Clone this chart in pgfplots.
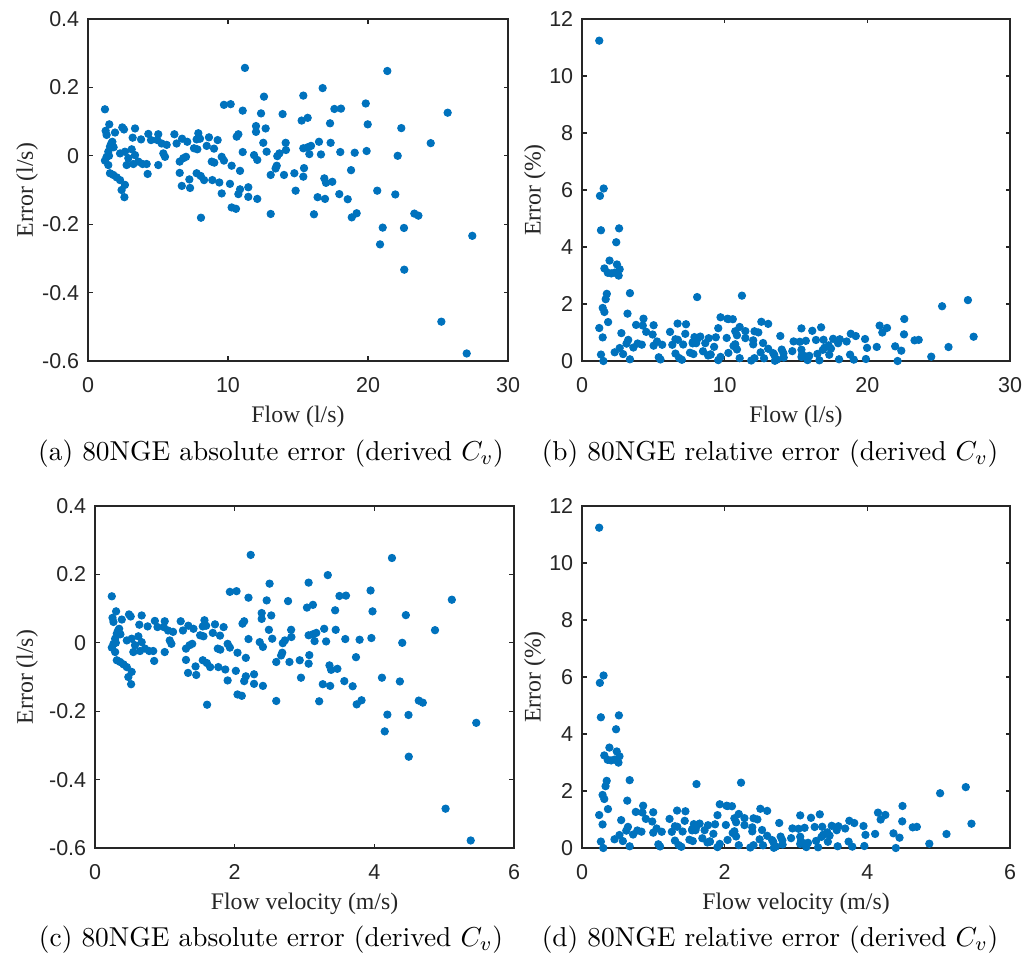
\documentclass[border=0pt]{standalone}
\usepackage{fontspec}
\usepackage{pgfplots}
\usepackage{pgfplotstable}
\pgfplotsset{compat=1.18}
\newfontfamily\arialf{Liberation Sans}
\newfontfamily\timesf{Liberation Serif}
\definecolor{mblue}{rgb}{0,0.447,0.741}
\definecolor{axgray}{rgb}{0.15,0.15,0.15}

\pgfplotstableread{
flow err
1.21 0.136
1.52 0.092
1.26 0.073
1.33 0.061
1.93 0.068
2.45 0.083
2.57 0.077
3.36 0.080
1.74 0.041
3.19 0.053
3.79 0.048
4.31 0.064
4.50 0.046
5.02 0.063
4.95 0.046
5.26 0.036
5.62 0.032
6.17 0.063
6.33 0.036
6.72 0.050
1.57 0.027
1.45 0.012
1.33 -0.003
1.21 -0.014
1.45 -0.027
2.29 0.007
2.64 0.012
3.12 0.019
3.36 0.002
2.88 -0.007
2.76 -0.027
3.24 -0.024
3.60 -0.017
3.90 -0.024
4.19 -0.024
4.26 -0.053
5.02 -0.027
5.38 0.007
5.50 -0.003
6.55 -0.017
6.55 -0.050
6.70 -0.088
1.57 -0.051
1.81 -0.056
2.05 -0.063
2.29 -0.071
2.64 -0.085
2.40 -0.100
2.60 -0.121
1.50 0.000
1.66 0.036
1.83 0.025
12.57 0.173
9.71 0.149
10.19 0.151
11.05 0.132
12.36 0.124
13.90 0.122
12.00 0.087
12.00 0.070
12.69 0.080
10.74 0.063
10.62 0.056
7.09 0.041
7.88 0.066
8.00 0.050
7.76 0.048
8.64 0.054
9.26 0.046
8.48 0.029
9.00 0.021
7.57 0.022
7.81 0.019
12.52 0.038
14.12 0.038
14.14 0.017
12.76 0.012
11.05 0.011
13.67 0.007
13.52 -0.001
11.86 0.002
12.09 -0.012
6.81 -0.007
7.00 -0.003
8.84 -0.017
9.02 -0.020
9.55 -0.003
9.71 -0.014
10.26 -0.029
10.86 -0.044
13.48 -0.029
13.40 -0.037
13.05 -0.056
14.00 -0.056
7.76 -0.051
8.05 -0.059
8.29 -0.071
7.24 -0.069
7.29 -0.094
8.88 -0.071
9.38 -0.078
10.14 -0.082
11.45 -0.092
10.86 -0.098
10.74 -0.112
9.55 -0.110
11.45 -0.120
12.09 -0.126
10.26 -0.151
10.57 -0.155
8.07 -0.181
13.05 -0.170
11.21 0.257
21.38 0.248
16.76 0.198
15.38 0.176
17.60 0.137
18.07 0.138
19.84 0.153
15.26 0.103
15.69 0.111
17.29 0.095
19.98 0.092
15.38 0.022
15.69 0.025
15.93 0.029
16.50 0.041
17.33 0.038
15.81 0.005
16.64 0.004
18.02 0.011
19.05 0.009
19.90 0.014
15.43 -0.036
15.38 -0.061
14.74 -0.051
18.79 -0.042
16.88 -0.066
17.00 -0.079
17.45 -0.076
14.83 -0.102
17.95 -0.112
16.40 -0.121
16.93 -0.126
18.55 -0.127
20.66 -0.102
21.95 -0.113
16.14 -0.171
19.19 -0.168
18.84 -0.180
21.05 -0.210
25.69 0.126
22.38 0.081
24.48 0.037
22.12 0.000
23.31 -0.169
23.60 -0.175
22.57 -0.211
27.45 -0.234
20.86 -0.259
22.59 -0.333
25.24 -0.485
27.05 -0.578
}\datatab

\pgfplotsset{
  mystyle/.style={
    scale only axis,
    anchor=south west,
    height=136.8pt,
    clip=false,
    axis line style={axgray, line width=0.5pt},
    tick style={axgray, line width=0.5pt},
    tick align=inside,
    tick pos=both,
    major tick length=1.8pt,
    ticklabel style={font=\arialf\fontsize{8.6}{10}\selectfont, text=axgray},
    xticklabel style={yshift=-3.2pt},
    /pgf/number format/assume math mode=true,
    label style={font=\timesf\fontsize{9.5}{11}\selectfont, text=axgray, inner sep=1pt},
    xlabel style={at={(axis description cs:0.5,-0.162)}, anchor=center},
  },
  errax/.style={ymin=-0.6, ymax=0.4, ytick={-0.6,-0.4,-0.2,0,0.2,0.4}, ylabel={Error (l/s)}},
  relax/.style={ymin=0, ymax=12, ytick={0,2,4,6,8,10,12}, ylabel={Error (\%)}},
  flowax/.style={xmin=0, xmax=30, xtick={0,10,20,30}, xlabel={Flow (l/s)}},
  velax/.style={xmin=0, xmax=6, xtick={0,2,4,6}, xlabel={Flow velocity (m/s)}},
  pts/.style={only marks, mark=*, mark size=1.45pt, color=mblue, mark options={draw=mblue, fill=mblue}},
}

\begin{document}
\begin{tikzpicture}
\path[use as bounding box] (0,0) rectangle (409.2pt,383.2pt);

\begin{axis}[mystyle, errax, flowax, at={(35.2pt,238.8pt)}, width=168pt,
  ylabel style={at={(axis description cs:-0.145,0.5)}, anchor=center}]
\addplot[pts] table[x=flow, y=err]{\datatab};
\end{axis}

\begin{axis}[mystyle, relax, flowax, at={(232.8pt,238.8pt)}, width=171.2pt,
  ylabel style={at={(axis description cs:-0.11,0.5)}, anchor=center}]
\addplot[pts] table[x=flow, y expr={abs(\thisrow{err})/\thisrow{flow}*100}]{\datatab};
\end{axis}

\begin{axis}[mystyle, errax, velax, at={(38pt,44pt)}, width=167.6pt,
  ylabel style={at={(axis description cs:-0.162,0.5)}, anchor=center}]
\addplot[pts] table[x expr={\thisrow{flow}*0.1989}, y=err]{\datatab};
\end{axis}

\begin{axis}[mystyle, relax, velax, at={(232.8pt,44pt)}, width=171.2pt,
  ylabel style={at={(axis description cs:-0.11,0.5)}, anchor=center}]
\addplot[pts] table[x expr={\thisrow{flow}*0.1989}, y expr={abs(\thisrow{err})/\thisrow{flow}*100}]{\datatab};
\end{axis}

\node[font=\fontsize{10.95}{13}\selectfont] at (108.4pt,201.8pt) {(a) 80NGE absolute error (derived $C_v$)};
\node[font=\fontsize{10.95}{13}\selectfont] at (308pt,201.8pt) {(b) 80NGE relative error (derived $C_v$)};
\node[font=\fontsize{10.95}{13}\selectfont] at (108.4pt,7.2pt) {(c) 80NGE absolute error (derived $C_v$)};
\node[font=\fontsize{10.95}{13}\selectfont] at (308pt,7.2pt) {(d) 80NGE relative error (derived $C_v$)};
\end{tikzpicture}
\end{document}
